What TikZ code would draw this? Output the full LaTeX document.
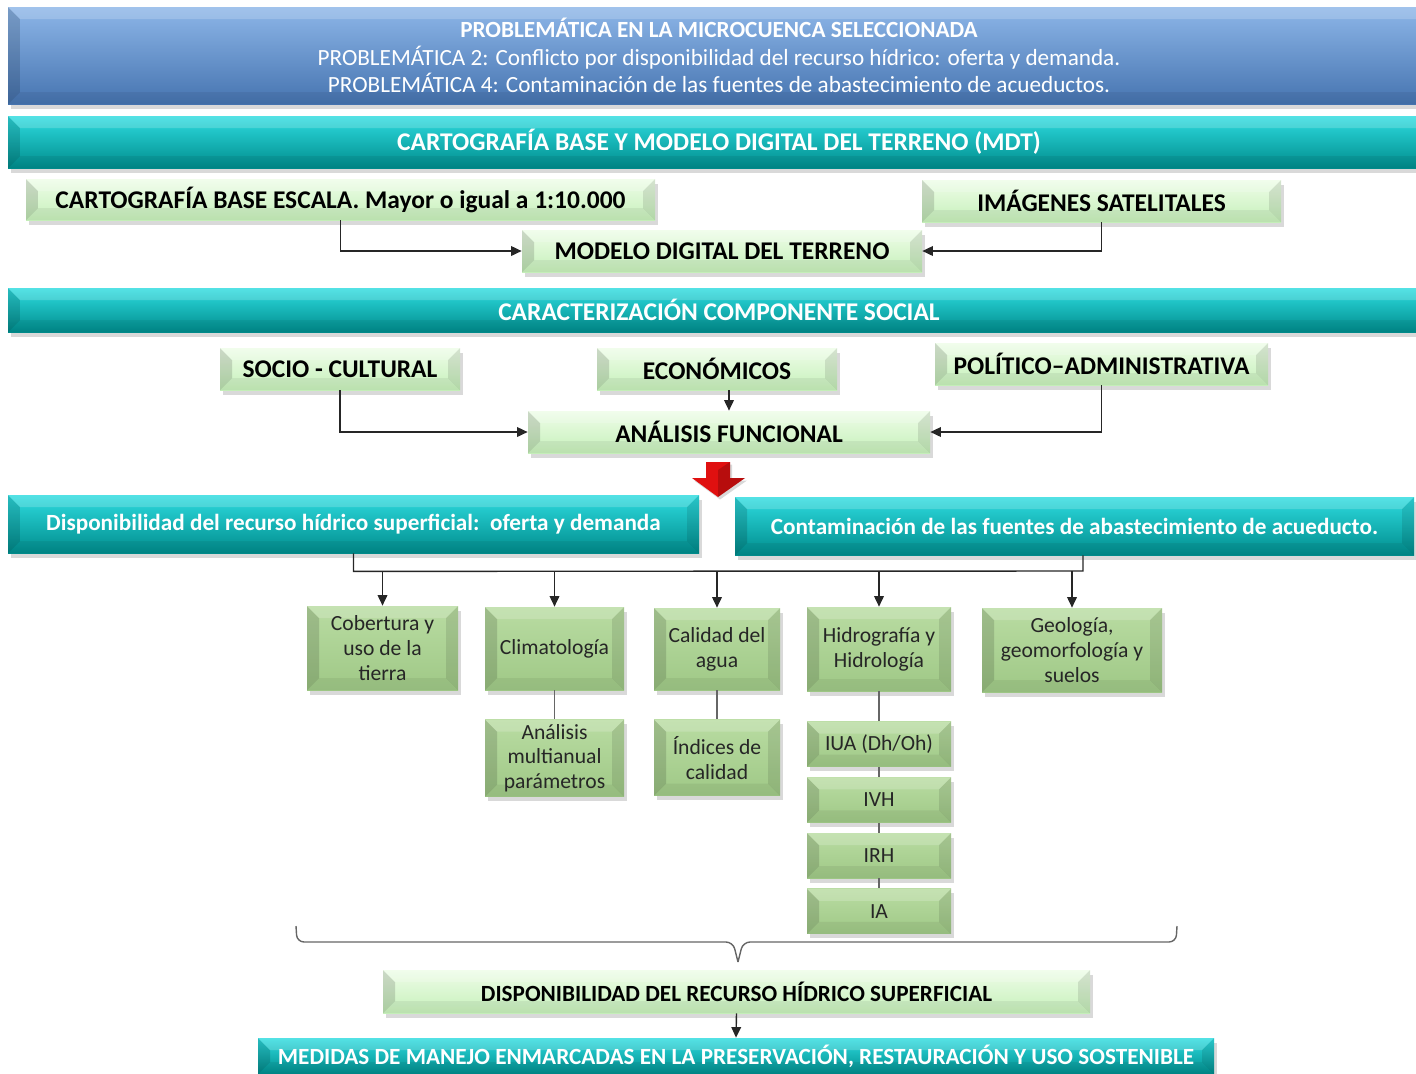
\documentclass[tikz,border=0pt]{standalone}
\usepackage{fontspec}
\setmainfont{Carlito}
\usetikzlibrary{arrows.meta, calc, positioning, shadows}
\definecolor{bluetop}{HTML}{8DB6E8}
\definecolor{bluemain}{HTML}{4F81BD}
\definecolor{bluebot}{HTML}{4674B0}
\definecolor{tealtop}{HTML}{2EDCE0}
\definecolor{tealmain}{HTML}{009C9C}
\definecolor{tealbot}{HTML}{008C8C}
\definecolor{mintop}{HTML}{EEFDE8}
\definecolor{minbot}{HTML}{C6F0BA}
\definecolor{leaftop}{HTML}{B9DCA2}
\definecolor{leafbot}{HTML}{9FC886}
\definecolor{arrowred}{HTML}{E01010}
\newcommand{\bv}{0.24cm}

\begin{document}
\begin{tikzpicture}[
	x=0.02cm, y=-0.02cm,
	bevel/.style = {path picture={
		\coordinate (bsw) at (path picture bounding box.south west);
		\coordinate (bnw) at (path picture bounding box.north west);
		\coordinate (bne) at (path picture bounding box.north east);
		\coordinate (bse) at (path picture bounding box.south east);
		\coordinate (isw) at ([shift={(\bv,\bv)}]bsw);
		\coordinate (inw) at ([shift={(\bv,-\bv)}]bnw);
		\coordinate (ine) at ([shift={(-\bv,-\bv)}]bne);
		\coordinate (ise) at ([shift={(-\bv,\bv)}]bse);
		\fill[black, opacity=0.14] (bsw) -- (isw) -- (inw) -- (bnw) -- cycle;
		\fill[black, opacity=0.10] (bse) -- (ise) -- (ine) -- (bne) -- cycle;
		\fill[white, opacity=0.18] (bnw) -- (inw) -- (ine) -- (bne) -- cycle;
		\fill[black, opacity=0.06] (bsw) -- (isw) -- (ise) -- (bse) -- cycle;
	}},
	wh/.style 2 args = {minimum width=#1*0.02cm, minimum height=#2*0.02cm},
	basebox/.style = {inner sep=0pt, align=center, bevel,
		drop shadow={shadow xshift=0.06cm, shadow yshift=-0.09cm, opacity=0.3}},
	headbox/.style = {basebox, top color=bluetop, middle color=bluemain, bottom color=bluebot,
		text=white, font=\fontsize{13.2}{15.6}\selectfont},
	tealbox/.style = {basebox, top color=tealtop, middle color=tealmain, bottom color=tealbot,
		text=white, font=\fontsize{14.5}{16}\selectfont\bfseries},
	tealsmall/.style = {tealbox, font=\fontsize{13.2}{15}\selectfont\bfseries},
	minbox/.style = {basebox, top color=mintop, bottom color=minbot,
		text=black, font=\fontsize{14.5}{16}\selectfont\bfseries},
	leafbox/.style = {basebox, top color=leaftop, bottom color=leafbot,
		text=black!85, font=\fontsize{12.3}{14.2}\selectfont},
	link/.style = {draw=black!85, line width=0.8pt},
	linkto/.style = {link, -{Triangle[length=6pt, width=5.5pt]}},
	tie/.style = {draw=black!60, line width=0.8pt}
]
	\useasboundingbox (0,0) rectangle (1416,1073);

	% cabecera
	\node[headbox, wh={1422}{97}] (problem) at (719,55.5) {{\bfseries PROBLEMÁTICA EN LA MICROCUENCA SELECCIONADA}\\
		PROBLEMÁTICA 2: Conflicto por disponibilidad del recurso hídrico: oferta y demanda.\\
		PROBLEMÁTICA 4: Contaminación de las fuentes de abastecimiento de acueductos.};

	% cartografia y MDT
	\node[tealbox, wh={1422}{52}] (cartohead) at (719,142) {CARTOGRAFÍA BASE Y MODELO DIGITAL DEL TERRENO (MDT)};
	\node[minbox, wh={629}{41}] (cartobase) at (340.5,199.5) {CARTOGRAFÍA BASE ESCALA. Mayor o igual a 1:10.000};
	\node[minbox, wh={359}{42}] (satelite) at (1101.5,201) {IMÁGENES SATELITALES};
	\node[minbox, wh={400}{42}] (mdt) at (722,251) {MODELO DIGITAL DEL TERRENO};
	\draw[linkto] (cartobase.south) |- (mdt.west);
	\draw[linkto] (satelite.south) |- (mdt.east);

	% componente social
	\node[tealbox, wh={1422}{44}] (socialhead) at (719,310) {CARACTERIZACIÓN COMPONENTE SOCIAL};
	\node[minbox, wh={240}{42}] (socio) at (340,369) {SOCIO - CULTURAL};
	\node[minbox, wh={240}{42}] (econ) at (717,369) {ECONÓMICOS};
	\node[minbox, wh={333}{42}] (polit) at (1101.5,364) {POLÍTICO--ADMINISTRATIVA};
	\node[minbox, wh={402}{42}] (funcional) at (729,432) {ANÁLISIS FUNCIONAL};
	\draw[linkto] (socio.south) |- (funcional.west);
	\draw[linkto] (econ.south -| funcional.north) -- (funcional.north);
	\draw[linkto] (polit.south) |- (funcional.east);

	% flecha roja
	\fill[arrowred, drop shadow={shadow xshift=0.04cm, shadow yshift=-0.05cm, opacity=0.3}]
		(706,462) -- (730,462) -- (730,478) -- (745,478) -- (718,497) -- (692,478) -- (706,478) -- cycle;
	\fill[black, opacity=0.18] (718,470) -- (730,462) -- (730,478) -- (745,478) -- (718,497) -- cycle;

	% problematicas
	\node[tealsmall, wh={691}{58}] (dispo) at (353.5,524) {Disponibilidad del recurso hídrico superficial:\ \ oferta y demanda};
	\node[tealsmall, wh={679}{58}] (conta) at (1074.5,526) {Contaminación de las fuentes de abastecimiento de acueducto.};

	% componentes
	\node[leafbox, wh={151}{84}] (cober) at (382.5,648) {Cobertura y\\uso de la\\tierra};
	\node[leafbox, wh={139}{83}] (clima) at (554.5,648.5) {Climatología};
	\node[leafbox, wh={126}{82}] (calidad) at (717,649) {Calidad del\\agua};
	\node[leafbox, wh={144}{84}] (hidro) at (879,649) {Hidrografía y\\Hidrología};
	\node[leafbox, wh={180}{84}] (geo) at (1072,650) {Geología,\\geomorfología y\\suelos};
	\node[leafbox, wh={139}{77}, below=0.58cm of clima] (multi) {Análisis\\multianual\\parámetros};
	\node[leafbox, wh={126}{76}, below=0.58cm of calidad] (indices) {Índices de\\calidad};
	\node[leafbox, wh={144}{45}, below=0.6cm of hidro] (iua) {IUA (Dh/Oh)};
	\node[leafbox, wh={144}{45}, below=0.2cm of iua] (ivh) {IVH};
	\node[leafbox, wh={144}{45}, below=0.2cm of ivh] (irh) {IRH};
	\node[leafbox, wh={144}{45}, below=0.2cm of irh] (ia) {IA};

	\coordinate (busl) at ($(dispo.south)+(0,18)$);
	\coordinate (busr) at (1083,571);
	\draw[link] (dispo.south) -- (busl) -- (busr) -- (busr |- conta.south);
	\foreach \k in {cober, clima, calidad, hidro, geo}
		\draw[linkto] (busl -| \k.north) -- (\k.north);
	\draw[tie] (clima.south) -- (multi.north);
	\draw[tie] (calidad.south) -- (indices.north);
	\draw[tie] (hidro.south) -- (iua.north);
	\draw[tie] (iua.south) -- (ivh.north);
	\draw[tie] (ivh.south) -- (irh.north);
	\draw[tie] (irh.south) -- (ia.north);

	% llave y resultado
	\coordinate (bracel) at (296,926);
	\coordinate (bracer) at (1177,926);
	\coordinate (bracetip) at (738,962);
	\draw[tie, rounded corners=4pt] (bracel) -- (297,942) -- (733,942) -- (bracetip);
	\draw[tie, rounded corners=4pt] (bracetip) -- (743,942) -- (1176,942) -- (bracer);
	\node[minbox, wh={707}{43}, font=\fontsize{13.2}{15}\selectfont\bfseries] (dispsup) at (736.5,991.5) {DISPONIBILIDAD DEL RECURSO HÍDRICO SUPERFICIAL};
	\node[tealsmall, wh={956}{36}] (medidas) at (736,1056) {MEDIDAS DE MANEJO ENMARCADAS EN LA PRESERVACIÓN, RESTAURACIÓN Y USO SOSTENIBLE};
	\draw[linkto] (dispsup.south) -- (medidas.north);
\end{tikzpicture}
\end{document}
